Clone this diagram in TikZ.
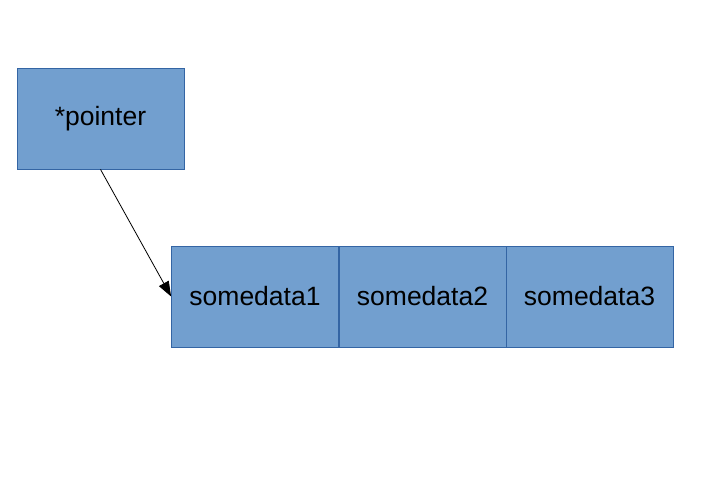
\documentclass[tikz,border=0pt]{standalone}
\usepackage{fontspec}
\setmainfont{Liberation Sans}
\usetikzlibrary{arrows.meta}
\definecolor{boxfill}{HTML}{729FCF}
\definecolor{boxline}{HTML}{3465A4}
\begin{document}
\begin{tikzpicture}[x=1pt,y=-1pt,
  cell/.style={draw=boxline,fill=boxfill,line width=0.8pt,minimum width=167pt,minimum height=101pt,inner sep=0pt,font=\fontsize{26.5}{30}\selectfont},
  ptr/.style={-{Triangle[length=15pt,width=11pt]},line width=0.8pt}]
\useasboundingbox (0,0) rectangle (725,483);
\node[cell] (p) at (100.5,118.5) {*pointer};
\node[cell] (d1) at (255,296.5) {somedata1};
\node[cell] (d2) at (422.5,296.5) {somedata2};
\node[cell] (d3) at (589.5,296.5) {somedata3};
\draw[ptr] (p.south) -- (d1.west);
\end{tikzpicture}
\end{document}
